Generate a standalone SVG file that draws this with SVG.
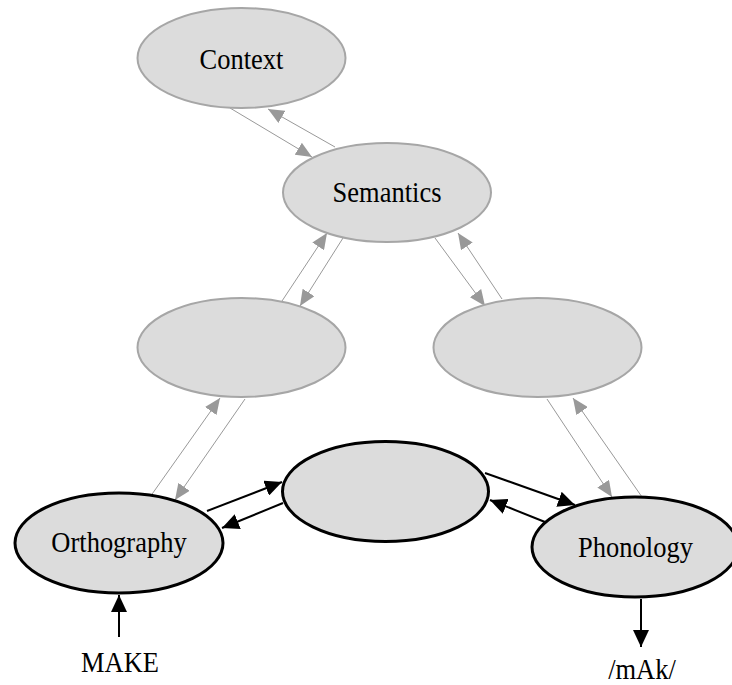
<svg xmlns="http://www.w3.org/2000/svg" width="732" height="685" viewBox="0 0 732 685">
<defs>
<marker id="ag" markerUnits="userSpaceOnUse" markerWidth="17" markerHeight="14" refX="16" refY="7" orient="auto"><path d="M0,0 L16,7 L0,14 z" fill="#999999"/></marker>
<marker id="ab" markerUnits="userSpaceOnUse" markerWidth="18" markerHeight="16" refX="17" refY="8" orient="auto"><path d="M0,0 L17,8 L0,16 z" fill="#000000"/></marker>
<style>
.g{fill:#dcdcdc;stroke:#a6a6a6;stroke-width:2}
.b{fill:#dcdcdc;stroke:#000;stroke-width:3}
.t{font-size:26.5px;fill:#000;text-anchor:middle}
.cg{stroke:#999999;stroke-width:1;fill:none;marker-end:url(#ag)}
.cb{stroke:#000;stroke-width:2;fill:none;marker-end:url(#ab)}
</style>
</defs>
<g id="connectors">
<line class="cg" x1="230" y1="108" x2="312" y2="157"/>
<line class="cg" x1="335" y1="147" x2="268" y2="109"/>
<line class="cg" x1="282" y1="301" x2="327" y2="233"/>
<line class="cg" x1="343" y1="238" x2="300" y2="306"/>
<line class="cg" x1="435" y1="238" x2="485" y2="306"/>
<line class="cg" x1="502" y1="299" x2="458" y2="233"/>
<line class="cg" x1="150" y1="497" x2="220" y2="398"/>
<line class="cg" x1="245" y1="399" x2="175" y2="500"/>
<line class="cg" x1="547" y1="399" x2="612" y2="497"/>
<line class="cg" x1="642" y1="497" x2="573" y2="398"/>
<line class="cb" x1="207" y1="511" x2="282" y2="482"/>
<line class="cb" x1="283" y1="503" x2="222" y2="528"/>
<line class="cb" x1="485" y1="473" x2="575" y2="505"/>
<line class="cb" x1="545" y1="522" x2="490" y2="500"/>
<line class="cb" x1="119" y1="637" x2="119" y2="595"/>
<line class="cb" x1="641" y1="599" x2="641" y2="647"/>
</g>
<g font-family="'Liberation Serif', Tinos, 'Times New Roman', 'DejaVu Serif', serif">
<g id="context"><ellipse class="g" cx="241.5" cy="58" rx="104" ry="50"/><text class="t" transform="translate(241.5,69) scale(1,1.1)">Context</text></g>
<g id="semantics"><ellipse class="g" cx="387" cy="192.5" rx="104" ry="49.5"/><text class="t" transform="translate(387,202) scale(1,1.1)">Semantics</text></g>
<g id="left-hidden"><ellipse class="g" cx="241.5" cy="347.5" rx="104" ry="49.5"/></g>
<g id="right-hidden"><ellipse class="g" cx="537.5" cy="347.5" rx="104" ry="49.5"/></g>
<g id="center-hidden"><ellipse class="b" cx="385.5" cy="491.5" rx="103" ry="50"/></g>
<g id="orthography"><ellipse class="b" cx="119" cy="543" rx="104" ry="50"/><text class="t" transform="translate(119,552) scale(1,1.1)">Orthography</text></g>
<g id="phonology"><ellipse class="b" cx="635" cy="547" rx="103" ry="50"/><text class="t" transform="translate(635.5,557) scale(1,1.1)">Phonology</text></g>
<g id="make"><text class="t" transform="translate(120,672) scale(1,1.1)">MAKE</text></g>
<g id="mak"><text class="t" transform="translate(642,679) scale(1,1.1)">/mAk/</text></g>
</g>
</svg>
